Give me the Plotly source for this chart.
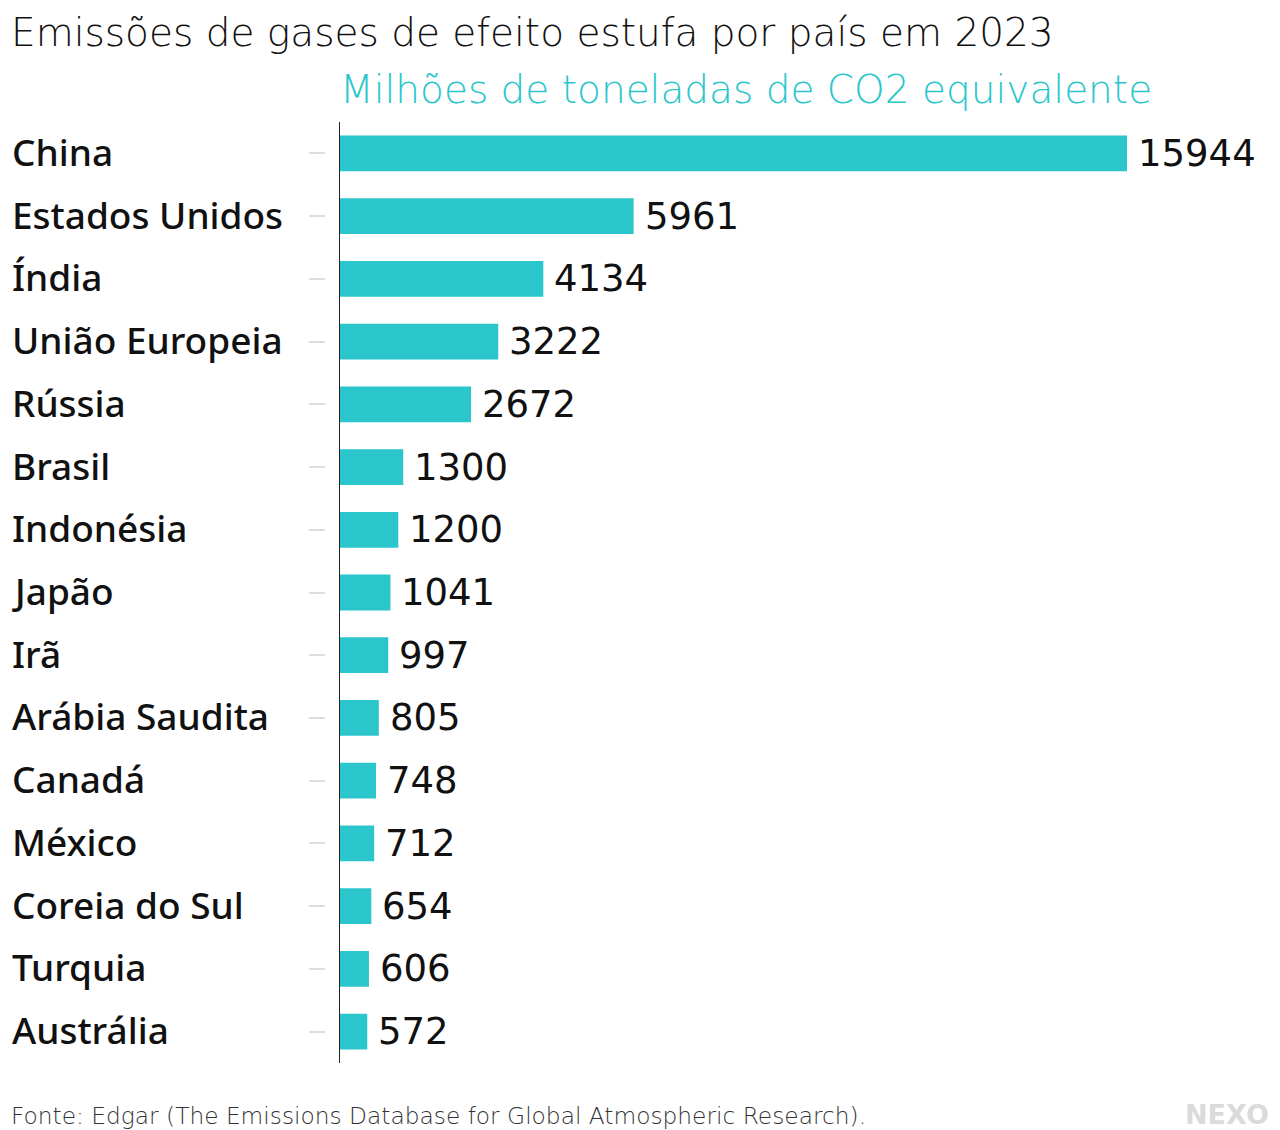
import plotly.graph_objects as go

paises = ["China", "Estados Unidos", "Índia", "União Europeia", "Rússia", "Brasil",
          "Indonésia", "Japão", "Irã", "Arábia Saudita", "Canadá", "México",
          "Coreia do Sul", "Turquia", "Austrália"]
emissoes = [15944, 5961, 4134, 3222, 2672, 1300, 1200, 1041, 997, 805, 748, 712, 654, 606, 572]

titulo = "Emissões de gases de efeito estufa por país em 2023"
subtitulo = "Milhões de toneladas de CO2 equivalente"
fonte = "Fonte: Edgar (The Emissions Database for Global Atmospheric Research)."

TEAL = "#2ac6cc"
LIGHT = "DejaVu Sans"
BODY = "Noto Sans"

# the page body has an 8px margin, so the figure starts at (8, 8)
OFF = 8
W, H = 1280 - OFF, 1130 - OFF
ML, MR, MT, MB = 325 - OFF, 10, 122 - OFF, 67
pw = W - ML - MR
ph = H - MT - MB


def px(x):
    return (x - OFF - ML) / pw


def py(y):
    return (H - MB - (y - OFF)) / ph


fig = go.Figure(go.Bar(
    x=emissoes, y=paises, orientation="h",
    marker=dict(color=TEAL, line=dict(width=0)),
    width=0.57, hoverinfo="skip",
))

ann = []
for p, v in zip(paises, emissoes):
    ann.append(dict(x=v, y=p, xref="x", yref="y", text=str(v), showarrow=False,
                    xanchor="left", yanchor="middle", xshift=9,
                    font=dict(family=LIGHT, size=37, color="#111")))
    ann.append(dict(x=px(10), y=p, xref="paper", yref="y", text=p, showarrow=False,
                    xanchor="left", yanchor="middle", yshift=2,
                    font=dict(family=BODY, size=37, color="#111", weight=500)))

ann += [
    dict(x=px(9), y=py(33), xref="paper", yref="paper", text=titulo, showarrow=False,
         xanchor="left", yanchor="middle",
         font=dict(family=LIGHT, size=39, color="#111", weight=200)),
    dict(x=px(338), y=py(89), xref="paper", yref="paper", text=subtitulo, showarrow=False,
         xanchor="left", yanchor="middle",
         font=dict(family=LIGHT, size=39, color=TEAL, weight=200)),
    dict(x=px(9), y=py(1115), xref="paper", yref="paper", text=fonte, showarrow=False,
         xanchor="left", yanchor="middle",
         font=dict(family=LIGHT, size=23.3, color="#333", weight=200)),
    dict(x=px(1271), y=py(1114), xref="paper", yref="paper", text="<b>NEXO</b>",
         showarrow=False, xanchor="right", yanchor="middle",
         font=dict(family="DejaVu Sans", size=27, color="#dadada")),
]

fig.update_layout(
    width=W, height=H,
    margin=dict(l=ML, r=MR, t=MT, b=MB),
    paper_bgcolor="white", plot_bgcolor="white",
    showlegend=False,
    annotations=ann,
    shapes=[dict(type="line", xref="x", yref="paper", x0=0, x1=0, y0=0, y1=1,
                 line=dict(color="#222", width=2), layer="above")],
    xaxis=dict(domain=[px(339), 1], range=[0, pw * (1 - px(339)) * 15944 / 788],
               showgrid=False, zeroline=False, showticklabels=False, showline=False,
               fixedrange=True),
    yaxis=dict(categoryorder="array", categoryarray=paises, autorange="reversed",
               anchor="free", position=0, showticklabels=False, showgrid=False,
               zeroline=False, showline=False,
               ticks="outside", ticklen=16, tickwidth=2, tickcolor="#dddddd",
               fixedrange=True),
)

fig.write_html("out.html")
